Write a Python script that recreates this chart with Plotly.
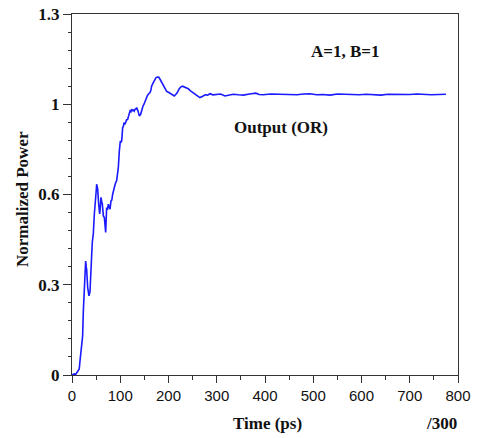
import plotly.graph_objects as go

# Time (ps) and normalized output power
time_ps = [0, 3, 5, 8, 10, 13, 15, 16.6, 18, 20, 22, 23.5, 25.6, 27, 28.3, 29.5, 30.4, 32.5,
           34, 35.2, 37.3, 39.4, 41, 42.2, 44.2, 46.3, 48.4, 50, 51.1, 53.2, 55.3, 57.3,
           58.5, 60.1, 61.5, 62.9, 65, 67, 69.8, 71.8, 73.5, 75.3, 77, 78.8, 80.8, 82.5,
           84.3, 86, 87.8, 90, 92.6, 94, 96, 98.1, 100.2, 101.5, 103, 105, 106.5, 107.8,
           109.5, 111.3, 113.4, 115, 116.8, 118.5, 120.2, 122, 123.6, 125.5, 127.1, 129,
           130.6, 132.5, 134, 136.8, 139.5, 142.3, 145, 147, 149.2, 151, 153.4, 156, 158.2,
           161.7, 163.5, 165.1, 168.5, 171, 174.1, 177.5, 180, 182.4, 186, 189.3, 193,
           196.2, 200, 203.1, 207, 212, 215, 218.3, 222, 225.2, 229, 232.1, 236, 241, 245,
           248, 251, 255, 259, 265, 270, 276, 281, 286, 292, 300, 308, 317, 325, 334, 345,
           355, 368, 381, 388, 396, 412, 431, 448, 466, 480, 493, 507, 520, 535, 550, 565,
           580, 595, 610, 625, 640, 655, 670, 685, 700, 715, 730, 745, 760, 775, 787]
power = [0, 0.002, 0.004, 0.003, 0.009, 0.02, 0.022, 0.051, 0.07, 0.105, 0.14, 0.23, 0.333,
         0.33, 0.41, 0.39, 0.38, 0.315, 0.29, 0.285, 0.30, 0.42, 0.44, 0.48, 0.51, 0.58,
         0.65, 0.66, 0.687, 0.67, 0.615, 0.58, 0.6, 0.64, 0.625, 0.615, 0.573, 0.567, 0.513,
         0.603, 0.595, 0.615, 0.605, 0.597, 0.627, 0.63, 0.651, 0.66, 0.675, 0.69, 0.70,
         0.72, 0.747, 0.807, 0.843, 0.838, 0.843, 0.891, 0.895, 0.909, 0.902, 0.909, 0.921,
         0.918, 0.927, 0.935, 0.951, 0.948, 0.957, 0.952, 0.954, 0.95, 0.957, 0.958, 0.963,
         0.951, 0.933, 0.939, 0.963, 0.968, 0.975, 0.985, 0.999, 1.005, 1.011, 1.017, 1.025,
         1.041, 1.053, 1.06, 1.071, 1.073, 1.072, 1.065, 1.052, 1.041, 1.03, 1.021, 1.018,
         1.015, 1.009, 1.005, 1.01, 1.017, 1.03, 1.037, 1.04, 1.037, 1.035, 1.031, 1.024,
         1.02, 1.015, 1.011, 1.004, 0.999, 1.003, 1.009, 1.008, 1.013, 1.009, 1.011, 1.012,
         1.005, 1.008, 1.011, 1.009, 1.008, 1.012, 1.015, 1.01, 1.009, 1.012, 1.011, 1.008,
         1.009, 1.012, 1.013, 1.009, 1.010, 1.008, 1.012, 1.011, 1.010, 1.009, 1.011, 1.010,
         1.008, 1.011, 1.010, 1.011, 1.010, 1.012, 1.010, 1.009, 1.010, 1.011]

y_tickvals = [0, 0.325, 0.65, 0.975, 1.3]
y_ticktext = ["0", "0.3", "0.6", "1", "1.3"]

serif = "Liberation Serif"
sans = "Liberation Sans"

fig = go.Figure()
fig.add_trace(go.Scatter(x=time_ps, y=power, mode="lines",
                         line=dict(color="#1a1aff", width=1.6), showlegend=False))

# the page body has an 8px margin, so the figure is 8px smaller and margins shifted
fig.update_layout(
    width=471, height=430,
    margin=dict(l=64, r=21, t=6, b=63, autoexpand=False),
    paper_bgcolor="white", plot_bgcolor="white",
)
fig.update_xaxes(range=[0, 800], dtick=100, tick0=0, showgrid=False, zeroline=False,
                 automargin=False,
                 showline=True, linecolor="#333", linewidth=1, mirror=True,
                 ticks="outside", ticklen=7, tickcolor="#333", ticklabeloverflow="allow",
                 minor=dict(dtick=50, ticks="outside", ticklen=4, tickcolor="#333"),
                 tickfont=dict(family=sans, size=15, color="#111"))
fig.update_yaxes(range=[0, 1.3], tickvals=y_tickvals,
                 ticktext=["<b>%s</b>" % t for t in y_ticktext],
                 showgrid=False, zeroline=False, ticklabeloverflow="allow",
                 automargin=False,
                 showline=True, linecolor="#333", linewidth=1, mirror=True,
                 ticks="outside", ticklen=8, tickcolor="#333",
                 minor=dict(tick0=0, dtick=0.065, ticks="outside", ticklen=3, tickcolor="#333"),
                 tickfont=dict(family=serif, size=17, color="#111"))

ann_font = dict(family=serif, size=17, color="#111")
common = dict(xref="paper", yref="paper", showarrow=False, font=ann_font,
              xanchor="center", yanchor="middle")
fig.add_annotation(text="<b>A=1, B=1</b>", x=(345 - 72) / 386, y=(375 - 51) / 361, **common)
fig.add_annotation(text="<b>Output (OR)</b>", x=(281 - 72) / 386, y=(375 - 127) / 361, **common)
fig.add_annotation(text="<b>Time (ps)</b>", x=(267 - 72) / 386, y=(375 - 423) / 361, **common)
fig.add_annotation(text="<b>/300</b>", x=(441 - 72) / 386, y=(375 - 423) / 361, **common)
fig.add_annotation(text="<b>Normalized Power</b>", x=(22 - 72) / 386, y=(375 - 199) / 361,
                   textangle=-90, **common)

fig.write_html("out.html")
